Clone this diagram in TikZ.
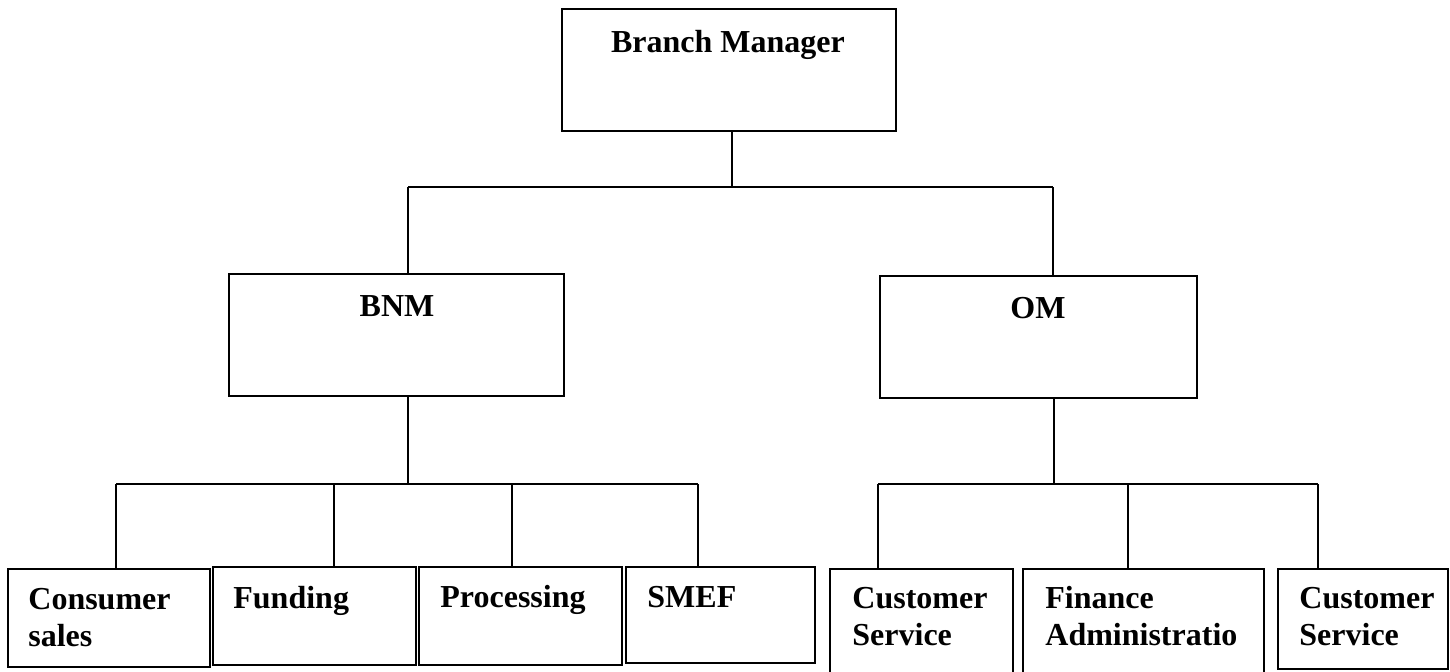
\documentclass[tikz,border=0pt]{standalone}
\usepackage{fontspec}
\setmainfont{Liberation Serif}
\newcommand\twol[2]{\begin{tabular}[t]{@{}l@{}}#1\\#2\end{tabular}}
\begin{document}
\begin{tikzpicture}[x=0.5pt,y=-0.5pt,
  box/.style={draw, line width=1pt, rectangle, inner sep=0pt, outer sep=0pt},
  lbl/.style={inner sep=0pt, font=\fontsize{16}{18.5}\selectfont\bfseries},
  conn/.style={line width=1pt}]
\useasboundingbox (0,0) rectangle (1450,671);
\fill[white] (0,0) rectangle (1450,671);
\clip (0,0) rectangle (1450,671);
% boxes
\node[box, minimum width=167pt, minimum height=61pt] (bm) at (729,70) {};
\node[box, minimum width=167.5pt, minimum height=61pt] (bnm) at (396.5,335) {};
\node[box, minimum width=158.5pt, minimum height=61pt] (om) at (1038.5,337) {};
\node[box, minimum width=101pt, minimum height=49pt] (cons) at (109,618) {};
\node[box, minimum width=101.5pt, minimum height=49pt] (fund) at (314.5,616) {};
\node[box, minimum width=101.5pt, minimum height=49pt] (proc) at (520.5,616) {};
\node[box, minimum width=94.5pt, minimum height=48pt] (smef) at (720.5,615) {};
\node[box, minimum width=91.5pt, minimum height=65.5pt] (cs1) at (921.5,634.5) {};
\node[box, minimum width=120.5pt, minimum height=65.5pt] (fin) at (1143.5,634.5) {};
\node[box, minimum width=85pt, minimum height=50pt] (cs2) at (1363,619) {};
% labels
\node[lbl, anchor=base] (tbm) at (728,52) {Branch Manager};
\node[lbl, anchor=base] (tbnm) at (397,316) {BNM};
\node[lbl, anchor=base] (tom) at (1038,318) {OM};
\node[lbl, anchor=base west] (tcons) at (28,609) {\twol{Consumer}{sales}};
\node[lbl, anchor=base west] (tfund) at (233,608) {Funding};
\node[lbl, anchor=base west] (tproc) at (440,607) {Processing};
\node[lbl, anchor=base west] (tsmef) at (647,607) {SMEF};
\node[lbl, anchor=base west] (tcs1) at (852,608) {\twol{Customer}{Service}};
\node[lbl, anchor=base west] (tfin) at (1045,608) {\twol{Finance}{Administratio}};
\node[lbl, anchor=base west] (tcs2) at (1299,608) {\twol{Customer}{Service}};
% top level connectors
\coordinate (j0) at (732,187);
\coordinate (jL) at (408,187);
\coordinate (jR) at (1053,187);
\draw[conn] (j0 |- bm.south) -- (j0);
\draw[conn] (jL) -- (jR);
\draw[conn] (jL) -- (jL |- bnm.north);
\draw[conn] (jR) -- (jR |- om.north);
% BNM connectors
\coordinate (k0) at (408,484);
\coordinate (k1) at (116,484);
\coordinate (k2) at (334,484);
\coordinate (k3) at (512,484);
\coordinate (k4) at (698,484);
\draw[conn] (k0 |- bnm.south) -- (k0);
\draw[conn] (k1) -- (k4);
\draw[conn] (k1) -- (k1 |- cons.north);
\draw[conn] (k2) -- (k2 |- fund.north);
\draw[conn] (k3) -- (k3 |- proc.north);
\draw[conn] (k4) -- (k4 |- smef.north);
% OM connectors
\coordinate (m0) at (1054,484);
\coordinate (m1) at (878,484);
\coordinate (m2) at (1128,484);
\coordinate (m3) at (1318,484);
\draw[conn] (m0 |- om.south) -- (m0);
\draw[conn] (m1) -- (m3);
\draw[conn] (m1) -- (m1 |- cs1.north);
\draw[conn] (m2) -- (m2 |- fin.north);
\draw[conn] (m3) -- (m3 |- cs2.north);
\end{tikzpicture}
\end{document}
